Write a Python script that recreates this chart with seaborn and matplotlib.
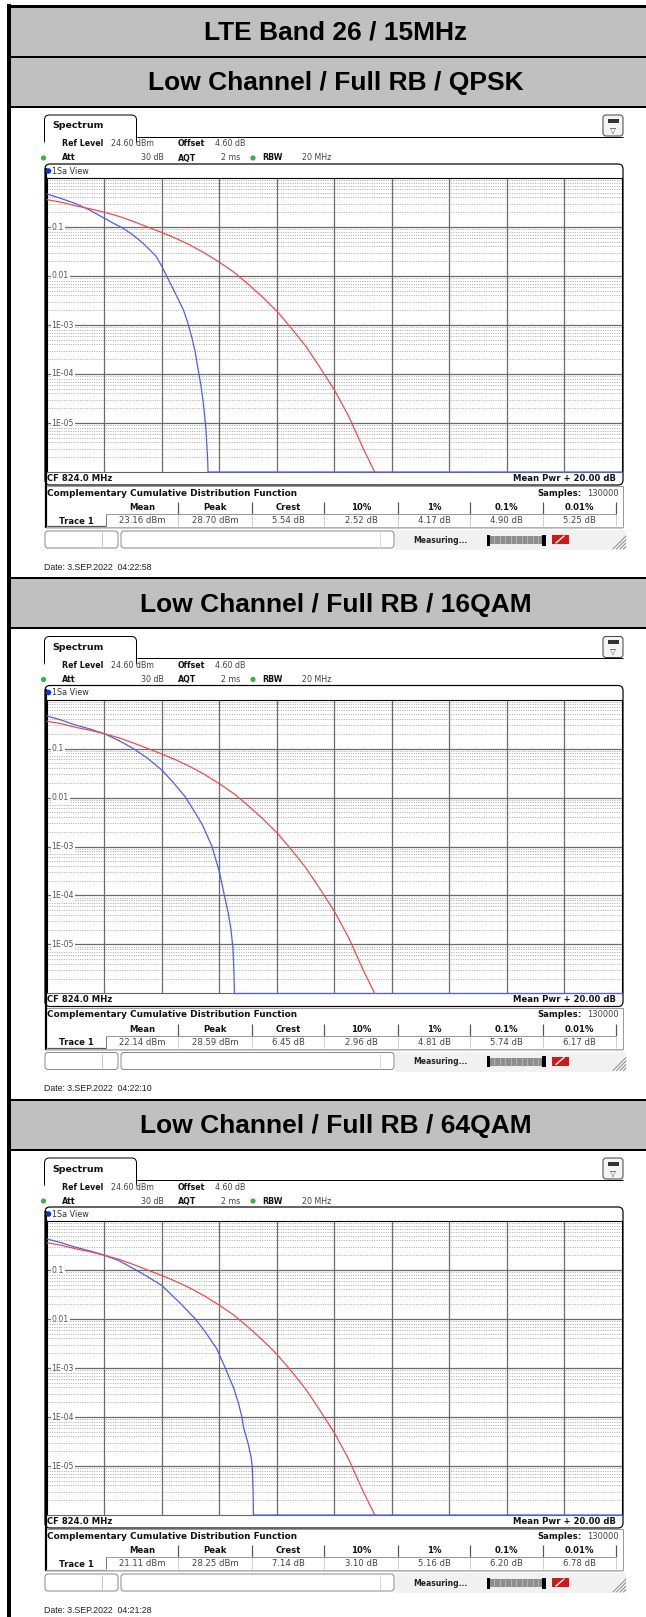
import matplotlib
matplotlib.use("Agg")
import matplotlib.pyplot as plt
import matplotlib.transforms as mtransforms
from matplotlib.patches import FancyBboxPatch, Rectangle, Circle
import numpy as np
import pandas as pd
import seaborn as sns

W, H = 646, 1617

MAIN_TITLE = "LTE Band 26 / 15MHz"
PANEL_TITLES = [
    "Low Channel / Full RB / QPSK",
    "Low Channel / Full RB / 16QAM",
    "Low Channel / Full RB / 64QAM",
]
DATES = [
    "Date: 3.SEP.2022  04:22:58",
    "Date: 3.SEP.2022  04:22:10",
    "Date: 3.SEP.2022  04:21:28",
]

STAT_COLS = ["Mean", "Peak", "Crest", "10%", "1%", "0.1%", "0.01%"]
STATS = [
    ["23.16 dBm", "28.70 dBm", "5.54 dB", "2.52 dB", "4.17 dB", "4.90 dB", "5.25 dB"],
    ["22.14 dBm", "28.59 dBm", "6.45 dB", "2.96 dB", "4.81 dB", "5.74 dB", "6.17 dB"],
    ["21.11 dBm", "28.25 dBm", "7.14 dB", "3.10 dB", "5.16 dB", "6.20 dB", "6.78 dB"],
]

Y_TICKS = [0.1, 0.01, 1e-3, 1e-4, 1e-5]
Y_TICK_LABELS = ["0.1", "0.01", "1E-03", "1E-04", "1E-05"]

# gaussian reference trace (red) - same on every screen
REF_DB = [0, 0.5, 1, 1.5, 2, 2.5, 3, 3.5, 4, 4.5, 5, 5.5, 6, 6.5, 7, 7.5, 8, 8.5,
          9, 9.5, 10, 10.5, 11, 11.4]
REF_P = [0.36, 0.32, 0.27, 0.235, 0.20, 0.165, 0.13, 0.10, 0.077, 0.058, 0.042,
         0.029, 0.019, 0.012, 0.0068, 0.0037, 0.0019, 8.6e-4, 3.7e-4, 1.35e-4,
         4.7e-5, 1.35e-5, 3e-6, 1e-6]

# measured traces (blue)
QPSK_DB = [0, 0.5, 1, 1.5, 2, 2.3, 2.65, 3, 3.35, 3.6, 3.8, 4.0, 4.2, 4.35, 4.55,
           4.75, 4.9, 5.05, 5.15, 5.25, 5.35, 5.44, 5.53, 5.59, 5.6, 20]
QPSK_P = [0.47, 0.38, 0.30, 0.22, 0.15, 0.12, 0.094, 0.068, 0.046, 0.033, 0.025,
          0.0155, 0.009, 0.006, 0.0035, 0.002, 0.0011, 5.2e-4, 2.9e-4, 1.3e-4,
          6e-5, 2.5e-5, 7.2e-6, 1.7e-6, 1e-6, 1e-6]

QAM16_DB = [0, 0.5, 1, 1.5, 2, 2.5, 3, 3.5, 4, 4.4, 4.8, 5.1, 5.4, 5.74, 6.0, 6.17,
            6.3, 6.4, 6.47, 6.5, 6.52, 20]
QAM16_P = [0.46, 0.38, 0.30, 0.25, 0.20, 0.145, 0.10, 0.063, 0.036, 0.02, 0.0105,
           0.0055, 0.0028, 0.001, 3.0e-4, 1e-4, 4.5e-5, 2e-5, 8e-6, 3e-6, 1e-6, 1e-6]

QAM64_DB = [0, 0.5, 1, 1.5, 2, 2.5, 3.1, 3.5, 4, 4.6, 5.16, 5.5, 5.9, 6.2, 6.5,
            6.66, 6.78, 6.84, 6.88, 7.0, 7.1, 7.14, 7.17, 7.18, 20]
QAM64_P = [0.43, 0.36, 0.29, 0.245, 0.20, 0.155, 0.10, 0.073, 0.048, 0.022, 0.01,
           0.0055, 0.0025, 0.001, 3.8e-4, 1.9e-4, 1e-4, 6e-5, 5e-5, 2.8e-5, 1.5e-5,
           9.5e-6, 3e-6, 1e-6, 1e-6]

TRACES = [(QPSK_DB, QPSK_P), (QAM16_DB, QAM16_P), (QAM64_DB, QAM64_P)]
PANEL_DY = [0, 521.5, 1043]

RED = "#f04c4c"
BLUE = "#4d5ef2"
GRAY_HDR = "#c0c0c0"
SCREEN_FONT = "DejaVu Sans"
DOC_FONT = "Liberation Sans"

sns.set_style("white")
plt.rcParams["font.family"] = [SCREEN_FONT]
plt.rcParams["text.color"] = "black"

fig = plt.figure(figsize=(W / 100, H / 100), dpi=100)
bg = fig.add_axes([0, 0, 1, 1])
bg.set_xlim(0, W)
bg.set_ylim(H, 0)
bg.axis("off")


def px(v):
    return v * 0.72


def hline(x0, x1, y, color="black", w=1.0, **kw):
    bg.plot([x0, x1], [y, y], color=color, lw=px(w), solid_capstyle="butt", **kw)


def vline(x, y0, y1, color="black", w=1.0, **kw):
    bg.plot([x, x], [y0, y1], color=color, lw=px(w), solid_capstyle="butt", **kw)


def txt(x, y, s, size=5.7, weight="normal", ha="left", color="#111111", family=SCREEN_FONT):
    bg.text(x, y, s, fontsize=size, fontweight=weight, ha=ha, va="center",
            color=color, family=family)


def rbox(x, y, w, h, r=3, ec="black", fc="white", lw=1.0, z=1):
    bg.add_patch(FancyBboxPatch((x, y), w, h, boxstyle=f"round,pad=0,rounding_size={r}",
                                ec=ec, fc=fc, lw=px(lw), zorder=z))


# document table: header rows + borders
bg.add_patch(Rectangle((10, 7), W - 10, 50, fc=GRAY_HDR, ec="none"))
bg.text(336, 33, MAIN_TITLE, fontsize=19, fontweight="bold", ha="center",
        va="center", family=DOC_FONT, color="black")
hline(8, W, 6, w=3)
hline(8, W, 57, w=2)

COL_EDGES = [106, 178, 252, 324, 398, 470, 543, 616]

for k, dy in enumerate(PANEL_DY):
    # panel header row
    bg.add_patch(Rectangle((10, 57 + dy), W - 10, 50, fc=GRAY_HDR, ec="none"))
    bg.text(336, 83 + dy, PANEL_TITLES[k], fontsize=19, fontweight="bold",
            ha="center", va="center", family=DOC_FONT, color="black")
    hline(8, W, 57 + dy, w=2)
    hline(8, W, 107 + dy, w=2)

    # spectrum tab
    rbox(44.5, 115 + dy, 92, 30, r=5, lw=1.0)
    bg.add_patch(Rectangle((45.2, 137.6 + dy), 90.6, 9, fc="white", ec="none", zorder=2))
    hline(136.5, 623, 137 + dy, w=1.0, zorder=3)
    txt(52, 126 + dy, "Spectrum", size=6.8, weight="bold")
    # icon
    rbox(603, 115 + dy, 20, 21, r=3, ec="#444444", fc="#f4f4f4", lw=1.0)
    bg.add_patch(Rectangle((607.5, 119 + dy), 11, 4, fc="#333333", ec="none", zorder=3))
    txt(613, 130 + dy, "\u25BD", size=5.5, ha="center", color="#333333")

    # settings lines
    txt(62, 144 + dy, "Ref Level", weight="bold")
    txt(111, 144 + dy, "24.60 dBm", color="#444444")
    txt(178, 144 + dy, "Offset", weight="bold")
    txt(215, 144 + dy, "4.60 dB", color="#444444")
    bg.add_patch(Circle((43.5, 158 + dy), 2.6, fc="#36b24a", ec="none"))
    txt(62, 158 + dy, "Att", weight="bold")
    txt(164, 158 + dy, "30 dB", ha="right", color="#444444")
    txt(178, 158 + dy, "AQT", weight="bold")
    txt(240, 158 + dy, "2 ms", ha="right", color="#444444")
    bg.add_patch(Circle((253, 158 + dy), 2.6, fc="#36b24a", ec="none"))
    txt(262, 158 + dy, "RBW", weight="bold")
    txt(302, 158 + dy, "20 MHz", color="#444444")

    # view frame
    rbox(45, 164 + dy, 578, 321, r=5, lw=1.2)
    vline(45.5, 168 + dy, 528 + dy, w=2.2)
    bg.add_patch(Circle((48.5, 171 + dy), 2.8, fc="#1030e0", ec="none", zorder=3))
    txt(52, 171 + dy, "1Sa View", size=5.8, color="#333333")
    txt(47, 478 + dy, "CF 824.0 MHz", size=6.1, weight="bold")
    txt(616, 478 + dy, "Mean Pwr + 20.00 dB", size=6.1, weight="bold", ha="right")

    # result table
    bg.add_patch(Rectangle((46, 486 + dy), 577, 41, fc="white", ec="#9a9a9a", lw=px(1)))
    txt(47, 493 + dy, "Complementary Cumulative Distribution Function", size=6.4, weight="bold")
    txt(582, 493 + dy, "Samples:", size=6.1, weight="bold", ha="right")
    txt(587, 493 + dy, "130000", size=6, color="#444444")
    hline(106, 616, 514 + dy, color="#9a9a9a", w=1)
    for j, name in enumerate(STAT_COLS):
        x0, x1 = COL_EDGES[j], COL_EDGES[j + 1]
        txt((x0 + x1) / 2, 507.5 + dy, name, size=6.1, weight="bold", ha="center")
        txt((x0 + x1) / 2, 520.5 + dy, STATS[k][j], size=6.1, ha="center", color="#444444")
        vline(x1, 502 + dy, 514 + dy, color="#555555", w=1.2)
        vline(x1, 514 + dy, 526 + dy, color="#cfcfcf", w=1)
    vline(106, 514 + dy, 526 + dy, color="#777777", w=1)
    txt(76, 521 + dy, "Trace 1", size=6.1, weight="bold", ha="center")
    hline(47, 106, 526.5 + dy, color="#555555", w=1.2)
    hline(46, 623, 528 + dy, color="#bbbbbb", w=1.5)

    # status bar
    bg.add_patch(Rectangle((395, 530 + dy), 231, 20, fc="#f1f1f1", ec="none"))
    rbox(45, 531 + dy, 73, 17, r=3, ec="#8a8a8a", lw=1)
    vline(102, 532 + dy, 547 + dy, color="#c8c8c8", w=1)
    rbox(121, 531 + dy, 273, 17, r=3, ec="#8a8a8a", lw=1)
    vline(380, 532 + dy, 547 + dy, color="#d8d8d8", w=1)
    txt(413, 540 + dy, "Measuring...", size=5.5, weight="bold", color="#222222")
    bg.add_patch(Rectangle((488, 536 + dy), 56, 8, fc="#8e8e8e", ec="none"))
    for sx in np.arange(494, 540, 5.5):
        vline(sx, 536 + dy, 544 + dy, color="#c0c0c0", w=0.8)
    bg.add_patch(Rectangle((486.5, 534.5 + dy), 3.5, 11, fc="black", ec="none"))
    bg.add_patch(Rectangle((542, 534.5 + dy), 3.5, 11, fc="black", ec="none"))
    bg.add_patch(Rectangle((552, 535 + dy), 17, 9, fc="#d01818", ec="none"))
    bg.plot([556, 564], [543 + dy, 536 + dy], color="white", lw=px(1.4))
    for g in range(4):
        bg.plot([613 + g * 3.5, 626], [549 + dy, 536 + g * 3.5 + dy], color="#777777", lw=px(0.8))

    # date stamp
    txt(44, 567 + dy, DATES[k], size=6.3, color="#222222", family=DOC_FONT)

# left outer border
vline(9, 4.5, H, w=4)

# the CCDF screens
for k, dy in enumerate(PANEL_DY):
    top, bottom = 178 + dy, 472 + dy
    ax = fig.add_axes([47 / W, 1 - bottom / H, 575 / W, (bottom - top) / H], zorder=2)
    ax.set_facecolor("white")

    db, p = TRACES[k]
    df = pd.concat([
        pd.DataFrame({"dB": db, "p": p, "trace": "Trace 1"}),
        pd.DataFrame({"dB": REF_DB, "p": REF_P, "trace": "Gauss"}),
    ], ignore_index=True)
    sns.lineplot(data=df, x="dB", y="p", hue="trace",
                 palette={"Trace 1": BLUE, "Gauss": RED},
                 estimator=None, sort=False, legend=False, lw=0.9, ax=ax, zorder=5)
    for ln in ax.lines:
        ln.set_clip_on(False)

    ax.set_yscale("log")
    ax.set_xlim(0, 20)
    ax.set_ylim(1e-6, 1)

    # grid
    for dec in range(-6, 0):
        for m in range(2, 10):
            ax.axhline(m * 10.0 ** dec, color="#a8a8a8", lw=0.7,
                       ls=(0, (1, 1.4)), zorder=1)
    for v in 10.0 ** np.arange(-5, 0):
        ax.axhline(v, color="#6a6a6a", lw=0.9, zorder=2)
    for x in range(2, 20, 2):
        ax.axvline(x, color="#6a6a6a", lw=0.9, zorder=2)

    trans = mtransforms.blended_transform_factory(ax.transAxes, ax.transData)
    for v, lab in zip(Y_TICKS, Y_TICK_LABELS):
        ax.text(0.008, v, lab, transform=trans, fontsize=5.6, color="#555555",
                ha="left", va="center", zorder=4,
                bbox=dict(fc="white", ec="none", pad=0.6))

    ax.set_xticks([])
    ax.set_yticks([])
    ax.minorticks_off()
    ax.set_xlabel("")
    ax.set_ylabel("")
    for side, sp in ax.spines.items():
        sp.set_color("black")
        sp.set_linewidth(0.8)
    ax.spines["bottom"].set_color("#666666")

fig.savefig("out.png", dpi=100)
plt.close(fig)
